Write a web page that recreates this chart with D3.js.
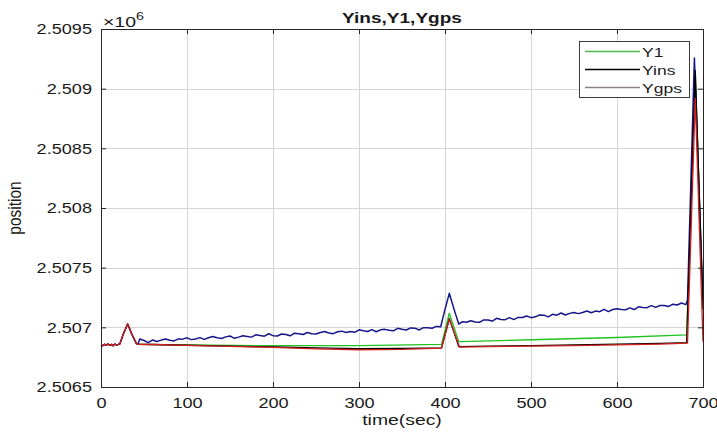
<!DOCTYPE html>
<html><head><meta charset="utf-8">
<script src="https://cdn.jsdelivr.net/npm/d3@7"></script>
<style>body{margin:0;background:#fff;} text{font-family:"Liberation Sans",Arial,Helvetica,sans-serif;fill:#1a1a1a;}</style>
</head><body><svg id="c" width="717" height="432"></svg>
<script>
// ---------- data ----------
const xTicks = [0,100,200,300,400,500,600,700];
const xTickLabels = ["0","100","200","300","400","500","600","700"];
const yTicks = [2506500,2507000,2507500,2508000,2508500,2509000,2509500];
const yTickLabels = ["2.5065","2.507","2.5075","2.508","2.5085","2.509","2.5095"];
const legendLabels = ["Y1","Yins","Ygps"];

// shared start section (t 0..43)
const startPart = [[0,2506852],[2,2506846],[4,2506858],[6,2506850],[8,2506861],[10,2506849],[12,2506857],[14,2506846],[16,2506860],[18,2506852],[20,2506856],[22,2506862],[26,2506945],[31,2507028],[36,2506940],[41,2506866],[43,2506858]];

const seriesBlue = [[45,2506902],[50,2506890],[55,2506872],[60,2506894],[65,2506882],[70,2506893],[75,2506902],[80,2506891],[85,2506886],[90,2506903],[95,2506901],[100,2506912],[105,2506897],[110,2506903],[115,2506914],[120,2506899],[125,2506913],[130,2506923],[135,2506912],[140,2506907],[145,2506920],[150,2506928],[155,2506908],[160,2506918],[165,2506930],[170,2506924],[175,2506918],[180,2506937],[185,2506931],[190,2506926],[195,2506946],[200,2506930],[205,2506927],[210,2506944],[215,2506940],[220,2506929],[225,2506951],[230,2506947],[235,2506940],[240,2506957],[245,2506947],[250,2506944],[255,2506957],[260,2506965],[265,2506953],[270,2506947],[275,2506963],[280,2506968],[285,2506957],[290,2506965],[295,2506958],[300,2506979],[305,2506971],[310,2506965],[315,2506981],[320,2506963],[325,2506979],[330,2506983],[335,2506975],[340,2506971],[345,2506992],[350,2506984],[355,2506978],[360,2506995],[365,2506993],[370,2506978],[375,2506997],[380,2506996],[385,2506992],[390,2507008],[395,2507005],[400,2507150],[405,2507285],[411,2507140],[416,2507028],[420,2507046],[425,2507042],[430,2507055],[435,2507044],[440,2507042],[445,2507062],[450,2507061],[455,2507053],[460,2507076],[465,2507065],[470,2507064],[475,2507081],[480,2507065],[485,2507083],[490,2507083],[495,2507095],[500,2507081],[505,2507088],[510,2507103],[515,2507102],[520,2507088],[525,2507109],[530,2507102],[535,2507120],[540,2507103],[545,2507117],[550,2507125],[555,2507115],[560,2507124],[565,2507137],[570,2507122],[575,2507136],[580,2507131],[585,2507151],[590,2507132],[595,2507149],[600,2507156],[605,2507149],[610,2507147],[615,2507163],[620,2507149],[625,2507172],[630,2507167],[635,2507165],[640,2507182],[645,2507167],[650,2507183],[655,2507183],[660,2507175],[665,2507194],[670,2507187],[675,2507204],[680,2507190],[682,2507230],[690,2509257],[700,2507204]];

const seriesY1 = [[43,2506858],[100,2506853],[200,2506846],[300,2506847],[396,2506857],[405,2507118],[416,2506880],[500,2506896],[600,2506915],[681,2506936],[691,2509150],[700,2507150]];

const seriesYins = [[43,2506858],[60,2506856],[100,2506850],[150,2506843],[200,2506836],[250,2506828],[300,2506822],[350,2506823],[396,2506828],[405,2507075],[416,2506838],[450,2506842],[500,2506847],[550,2506853],[600,2506859],[650,2506866],[681,2506872],[691,2509150],[700,2507150]];

const seriesRed = [[43,2506858],[60,2506856],[100,2506849],[150,2506840],[200,2506832],[250,2506820],[300,2506812],[350,2506815],[396,2506826],[405,2507068],[417,2506834],[450,2506838],[500,2506842],[550,2506847],[600,2506853],[650,2506860],[682,2506868],[691,2508920],[700,2506880]];

// ---------- layout ----------
const X0=101, X1=703, Y0=29, Y1=387;
const svg = d3.select("#c");
const x = d3.scaleLinear().domain([0,700]).range([X0,X1]);
const y = d3.scaleLinear().domain([2506500,2509500]).range([Y1,Y0]);

svg.append("rect").attr("x",X0).attr("y",Y0).attr("width",X1-X0).attr("height",Y1-Y0).attr("fill","#fff");

// grid
const grid = svg.append("g").attr("stroke","#d4d4d4").attr("stroke-width",1);
grid.selectAll(".gx").data(xTicks.slice(1,-1)).join("line")
  .attr("x1",d=>Math.round(x(d))+0.5).attr("x2",d=>Math.round(x(d))+0.5).attr("y1",Y0).attr("y2",Y1);
grid.selectAll(".gy").data(yTicks.slice(1,-1)).join("line").attr("class","gy")
  .attr("y1",d=>Math.round(y(d))+0.5).attr("y2",d=>Math.round(y(d))+0.5).attr("x1",X0).attr("x2",X1);

// lines
const line = d3.line().x(d=>x(d[0])).y(d=>y(d[1]));
const plotG = svg.append("g").attr("fill","none").attr("stroke-linejoin","round");
plotG.append("path").datum(seriesY1).attr("d",line).attr("stroke","#1fc21f").attr("stroke-width",1.3);
plotG.append("path").datum(startPart.concat(seriesBlue)).attr("d",line).attr("stroke","#16168c").attr("stroke-width",1.5);
plotG.append("path").datum(startPart.concat(seriesYins)).attr("d",line).attr("stroke","#000").attr("stroke-width",1.3);
plotG.append("path").datum(startPart.concat(seriesRed)).attr("d",line).attr("stroke","#d41e1e").attr("stroke-width",1.3);

// axes
const tickSx = 1.17;
const axL = d3.axisLeft(y).tickValues(yTicks).tickFormat((d,i)=>yTickLabels[i]).tickSize(-5).tickPadding(9);
const axB = d3.axisBottom(x).tickValues(xTicks).tickFormat((d,i)=>xTickLabels[i]).tickSize(-5).tickPadding(10);
const axR = d3.axisRight(y).tickValues(yTicks).tickFormat("").tickSize(-5);
const axT = d3.axisTop(x).tickValues(xTicks).tickFormat("").tickSize(-5);
function styleAxis(g){
  g.select(".domain").attr("stroke","#262626");
  g.selectAll(".tick line").attr("stroke","#262626");
  g.selectAll("text").attr("font-family","Liberation Sans, Arial, sans-serif").attr("font-size",15.5).attr("fill","#1a1a1a");
}
const gL = svg.append("g").attr("transform",`translate(${X0},0)`).call(axL).call(styleAxis);
gL.selectAll("text").attr("x",-9/tickSx).attr("transform",`scale(${tickSx},1)`);
const gB = svg.append("g").attr("transform",`translate(0,${Y1})`).call(axB).call(styleAxis);
gB.selectAll("text").attr("transform",`scale(${tickSx},1)`);
svg.append("g").attr("transform",`translate(${X1},0)`).call(axR).call(styleAxis);
svg.append("g").attr("transform",`translate(0,${Y0})`).call(axT).call(styleAxis);

// texts
function txt(str,xp,yp,size,sx,anchor,weight){
  return svg.append("text").attr("transform",`translate(${xp},${yp}) scale(${sx},1)`)
    .attr("text-anchor",anchor).attr("font-size",size).attr("font-weight",weight||"normal").text(str);
}
txt("Yins,Y1,Ygps",(X0+X1)/2,23,15,1.27,"middle","bold");
txt("time(sec)",(X0+X1)/2,425,15.5,1.25,"middle");
svg.append("text").attr("transform","translate(21,208) rotate(-90) scale(1,1.2)")
  .attr("text-anchor","middle").attr("font-size",15.5).text("position");
const mult = svg.append("text").attr("transform","translate(103,27) scale(1.3,1)").attr("font-size",15);
mult.append("tspan").text("×10");
mult.append("tspan").attr("dy",-7).attr("font-size",11).text("6");

// legend
const leg = svg.append("g");
leg.append("rect").attr("x",579.5).attr("y",41.5).attr("width",110).attr("height",56).attr("fill","#fff").attr("stroke","#3a3a3a").attr("stroke-width",1);
const legColors = ["#4db84d","#000","#8a8282"];
legendLabels.forEach((lab,i)=>{
  const ly = 51.5 + i*18;
  leg.append("line").attr("x1",585).attr("x2",640).attr("y1",ly).attr("y2",ly).attr("stroke",legColors[i]).attr("stroke-width",1.3);
  leg.append("text").attr("transform",`translate(642,${ly+5}) scale(1.3,1)`).attr("font-size",13.5).text(lab);
});
</script></body></html>
